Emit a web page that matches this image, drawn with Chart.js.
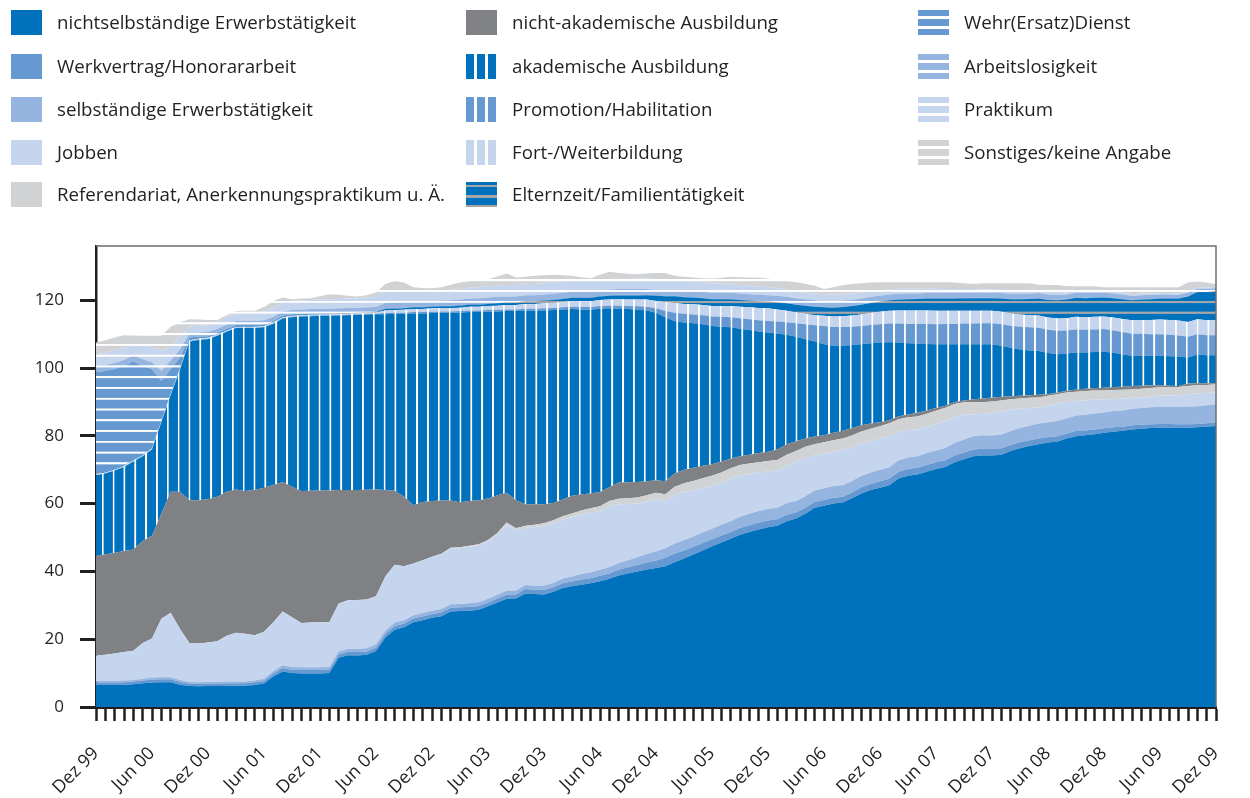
<!DOCTYPE html>
<html lang="de">
<head>
<meta charset="utf-8">
<script src="https://cdn.jsdelivr.net/npm/chart.js@4.4.0/dist/chart.umd.min.js"></script>
<style>
  html, body { margin: 0; padding: 0; background: #fff; }
  #wrap { position: relative; width: 1250px; height: 798px; overflow: hidden; }
  #chart { position: absolute; left: 0; top: 0; }
  .item { position: absolute; height: 25px; white-space: nowrap; font-family: 'Open Sans', sans-serif; font-size: 18.7px; color: #231f20; }
  .sw { position: absolute; left: 0; top: 0; width: 31px; height: 25px; }
  .txt { position: absolute; left: 46px; top: -1px; line-height: 25px; }
</style>
</head>
<body>
<div id="wrap">
  <canvas id="chart" width="1250" height="798"></canvas>
  <div id="legende"></div>
</div>
<script>
// Monate Dez 99 bis Dez 09 (Kategorien)
const monatsNamen = ['Jan', 'Feb', 'Mär', 'Apr', 'Mai', 'Jun', 'Jul', 'Aug', 'Sep', 'Okt', 'Nov', 'Dez'];
const monate = [];
for (let k = 0; k < 121; k++) {
    const m = (11 + k) % 12;
    const jahr = 1999 + Math.floor((11 + k) / 12);
    monate.push(monatsNamen[m] + ' ' + String(jahr % 100).padStart(2, '0'));
}

// Werte je Tätigkeit (Anteile, monatlich)
const nichtselbststaendig = [
    6.5, 6.5, 6.5, 6.6, 6.7, 7.0, 7.2, 7.3, 7.3, 6.6, 6.2, 6.1, 6.2, 6.2, 6.3, 6.3, 6.3, 6.5, 6.9, 9.0,
    10.5, 10.0, 9.9, 9.9, 9.9, 10.0, 14.5, 15.3, 15.2, 15.4, 16.5, 20.5, 22.8, 23.5, 25.0, 25.6, 26.3, 26.8, 28.2, 28.3,
    28.4, 28.7, 29.7, 30.8, 31.9, 32.0, 33.5, 33.3, 33.2, 34.0, 35.1, 35.6, 36.1, 36.5, 37.1, 37.8, 38.8, 39.4, 40.0, 40.6,
    41.0, 41.5, 42.7, 43.8, 45.0, 46.2, 47.4, 48.5, 49.6, 50.8, 51.6, 52.4, 53.0, 53.5, 54.8, 55.6, 57.0, 58.8, 59.4, 60.0,
    60.3, 61.6, 63.0, 64.0, 64.7, 65.4, 67.4, 68.2, 68.6, 69.4, 70.2, 70.8, 72.2, 73.1, 74.0, 74.2, 74.2, 74.4, 75.5, 76.3,
    77.0, 77.5, 78.0, 78.3, 79.2, 79.9, 80.2, 80.5, 80.9, 81.2, 81.5, 81.9, 82.1, 82.3, 82.4, 82.4, 82.4, 82.4, 82.5, 82.7,
    82.9
];
const werkvertrag = [
    0.7, 0.7, 0.7, 0.7, 0.8, 0.8, 0.9, 0.9, 0.9, 0.8, 0.7, 0.7, 0.7, 0.7, 0.7, 0.7, 0.7, 0.8, 0.8,
    0.9, 1.0, 1.0, 1.0, 1.0, 1.0, 1.0, 1.0, 1.0, 1.0, 1.0, 1.0,
    1.0, 1.1, 1.1, 1.1, 1.1, 1.1, 1.1, 1.1, 1.1, 1.1, 1.1, 1.1, 1.2, 1.2, 1.2,
    1.3, 1.3, 1.3, 1.3, 1.4, 1.4, 1.5, 1.5, 1.6, 1.6, 1.7, 1.8, 1.9, 2.0, 2.2,
    2.5, 2.6, 2.4, 2.3, 2.2, 2.1, 2.1, 2.0, 2.0, 2.0, 2.0, 2.0, 1.9, 1.9, 1.8,
    1.8, 1.7, 1.7, 1.7, 1.7, 1.7, 1.8, 1.8, 1.9, 1.9, 2.0, 2.0, 2.0, 2.0, 2.0,
    2.0, 2.0, 2.0, 2.0, 2.0, 1.9, 1.9, 1.8, 1.8, 1.7, 1.7, 1.6, 1.6, 1.5, 1.5,
    1.4, 1.4, 1.3, 1.3, 1.2, 1.2, 1.2, 1.1, 1.1, 1.1, 1.0, 1.0, 1.0, 1.0, 1.0
];
const selbststaendig = [
    0.5, 0.5, 0.5, 0.5, 0.5, 0.5, 0.6, 0.6, 0.6, 0.6, 0.5, 0.5, 0.5, 0.5, 0.5, 0.5, 0.5, 0.5, 0.6,
    0.7, 0.8, 0.8, 0.8, 0.8, 0.8, 0.8, 0.9, 0.9, 0.9, 0.9, 1.0,
    1.0, 1.0, 1.0, 1.0, 1.0, 1.0, 1.0, 1.0, 1.0, 1.1, 1.1, 1.1, 1.1, 1.2, 1.2,
    1.2, 1.2, 1.3, 1.3, 1.4, 1.5, 1.6, 1.7, 1.8, 1.9, 2.0, 2.1, 2.3, 2.5, 2.7,
    2.8, 2.9, 3.0, 3.0, 3.1, 3.1, 3.2, 3.2, 3.3, 3.4, 3.4, 3.4, 3.4, 3.4, 3.4,
    3.4, 3.4, 3.4, 3.4, 3.4, 3.4, 3.4, 3.4, 3.4, 3.4, 3.4, 3.4, 3.4, 3.5, 3.5,
    3.6, 3.7, 3.8, 3.9, 4.0, 4.0, 4.1, 4.1, 4.2, 4.3, 4.4, 4.4, 4.5, 4.5, 4.6,
    4.6, 4.7, 4.7, 4.8, 4.8, 4.9, 4.9, 5.0, 5.0, 5.1, 5.1, 5.2, 5.2, 5.3, 5.4
];
const jobben = [
    7.5, 7.7, 8.1, 8.4, 8.6, 10.6, 11.5, 17.2, 19.0, 15.0, 11.5, 11.4, 11.6, 12.0, 13.5, 14.4, 14.1, 13.4, 13.9, 14.4,
    15.9, 14.7, 13.1, 13.2, 13.3, 13.2, 14.1, 14.3, 14.5, 14.4, 14.2, 16.0, 17.1, 15.9, 15.2, 15.6, 15.9, 16.1, 16.4, 16.4,
    16.7, 16.8, 17.0, 17.8, 19.6, 17.8, 16.9, 17.3, 17.6, 17.6, 17.4, 17.5, 17.6, 17.6, 17.3, 18.0, 17.3, 16.6, 15.8, 15.5,
    15.3, 13.9, 14.5, 14.3, 13.7, 13.1, 12.6, 12.4, 12.6, 12.3, 11.8, 11.4, 11.1, 11.0, 11.1, 11.5, 11.3, 10.3, 10.3, 10.2,
    10.4, 9.9, 9.6, 9.3, 9.2, 9.3, 8.4, 8.1, 7.9, 7.7, 7.8, 8.0, 7.7, 7.4, 6.5, 6.3, 6.7, 6.8, 6.3, 5.7,
    5.2, 4.8, 4.9, 5.1, 4.8, 4.3, 4.3, 4.1, 3.9, 3.6, 3.5, 3.2, 3.2, 3.2, 3.3, 3.3, 3.5, 3.7, 3.8, 3.6,
    3.5
];
const referendariat = [
    0, 0, 0, 0, 0, 0, 0, 0, 0, 0, 0, 0, 0, 0, 0, 0, 0, 0, 0, 0,
    0, 0, 0, 0, 0, 0, 0, 0, 0, 0, 0, 0, 0, 0, 0, 0, 0,
    0.2, 0.3, 0.3, 0.3, 0.3, 0.4, 0.4, 0.5, 0.5,
    0.6, 0.7, 0.8, 0.9, 1.0, 1.1, 1.2, 1.3, 1.4, 1.5, 1.6, 1.7, 1.8, 1.9, 2.0,
    2.1, 2.3, 2.5, 2.7, 2.9, 3.0, 3.0, 3.0, 3.0, 3.0, 3.0, 3.1, 3.1, 3.2, 3.2,
    3.3, 3.3, 3.3, 3.4, 3.4, 3.5, 3.5, 3.6, 3.6, 3.7, 3.7, 3.8, 3.8, 3.9, 3.9,
    3.9, 3.8, 3.6, 3.5, 3.4, 3.3, 3.2, 3.1, 3.0, 3.0, 2.9, 2.9, 2.8, 2.8, 2.7,
    2.7, 2.7, 2.6, 2.6, 2.6, 2.5, 2.5, 2.5, 2.5, 2.5, 2.4, 2.4, 2.4, 2.4, 2.4
];
const nichtAkademisch = [
    29.5, 29.6, 29.7, 29.8, 29.9, 30.1, 30.3, 31.0, 35.7, 40.5, 42.1, 42.3, 42.3, 42.6, 42.5, 42.3, 42.1, 42.8, 42.5, 40.5,
    38.2, 38.5, 38.9, 38.9, 38.9, 38.9, 33.5, 32.5, 32.4, 32.4, 31.5, 25.5, 21.8, 20.5, 17.2, 17.2, 16.5, 15.7, 13.9, 13.3,
    13.2, 13.0, 12.2, 11.2, 8.8, 8.3, 6.3, 6.0, 5.6, 5.1, 4.9, 5.2, 4.8, 4.4, 4.2, 4.0, 4.8, 4.7, 4.6, 4.1,
    3.7, 3.8, 3.9, 4.0, 3.9, 3.7, 3.4, 3.2, 2.8, 2.6, 2.6, 2.7, 2.7, 3.1, 3.1, 2.9, 2.4, 2.3, 2.1, 2.2,
    2.3, 2.1, 1.8, 1.5, 1.2, 0.9, 0.9, 0.8, 1.1, 1.0, 0.8, 0.6, 0.6, 0.5, 0.9, 1.1, 1.2, 1.1, 0.9, 0.8,
    0.8, 0.8, 0.5, 0.5, 0.4, 0.7, 0.7, 0.7, 0.8, 0.9, 0.9, 1.0, 0.9, 0.8, 0.6, 0.4, 0.3, 0.7, 0.6, 0.5,
    0.3
];
const akademisch = [
    23.7, 23.9, 24.3, 24.8, 25.9, 25.0, 25.5, 27.0, 28.5, 36.0, 46.8, 47.3, 47.2, 47.5, 47.2, 47.6, 48.1, 47.8, 47.3, 47.5,
    48.2, 50.0, 51.5, 51.5, 51.5, 51.5, 51.5, 51.6, 51.7, 51.7, 51.7, 51.9, 52.2, 54.0, 56.6, 55.6, 55.4, 55.4, 55.4, 55.9,
    55.7, 55.5, 55.1, 54.2, 53.6, 55.8, 57.1, 57.1, 57.2, 56.9, 56.0, 55.1, 54.5, 54.2, 54.1, 52.8, 51.3, 51.1, 50.8, 50.4,
    49.4, 48.4, 44.9, 43.4, 42.6, 41.7, 40.8, 39.8, 38.8, 37.6, 36.8, 35.9, 35.2, 34.2, 32.3, 30.8, 29.3, 28.0, 26.8, 25.7,
    25.1, 24.6, 23.9, 23.7, 23.5, 23.0, 21.7, 21.0, 20.4, 19.6, 18.8, 18.1, 17.0, 16.6, 16.2, 16.0, 15.7, 15.1, 14.3, 13.7,
    13.2, 12.9, 12.1, 11.3, 11.1, 10.9, 10.7, 10.6, 10.6, 10.1, 9.5, 8.9, 8.8, 8.7, 8.7, 8.7, 8.7, 7.7, 8.5, 8.3,
    8.3
];
const promotion = [
    0, 0, 0, 0, 0, 0, 0, 0, 0, 0,
    0.1, 0.1, 0.1, 0.1, 0.1, 0.1, 0.1, 0.1, 0.1, 0.1, 0.1, 0.1, 0.1, 0.1, 0.1, 0.1, 0.1, 0.1, 0.1, 0.1, 0.1,
    0.3, 0.3, 0.3, 0.4, 0.4, 0.4, 0.4, 0.4, 0.5, 0.5, 0.5, 0.5, 0.5, 0.5, 0.5,
    0.6, 0.6, 0.6, 0.6, 0.7, 0.7, 0.7, 0.8, 0.8, 0.8, 0.9, 0.9, 1.0, 1.1, 1.3,
    1.8, 2.5, 2.6, 2.6, 2.7, 2.8, 2.9, 3.0, 3.1, 3.2, 3.3, 3.4, 3.5, 3.7, 4.0,
    4.4, 4.8, 5.4, 5.5, 5.5, 5.4, 5.4, 5.4, 5.4, 5.5, 5.6, 5.7, 5.8, 5.9, 5.9,
    6.0, 6.0, 6.1, 6.1, 6.2, 6.2, 6.3, 6.5, 6.7, 6.8, 6.9, 6.9, 6.9, 6.8, 6.8,
    6.7, 6.7, 6.7, 6.6, 6.6, 6.5, 6.5, 6.4, 6.4, 6.3, 6.2, 6.1, 6.0, 5.9, 5.9
];
const weiterbildung = [
    0.3, 0.3, 0.3, 0.3, 0.3, 0.3, 0.3, 0.3, 0.3, 0.3,
    0.3, 0.3, 0.3, 0.3, 0.3, 0.3, 0.3, 0.3, 0.3, 0.3, 0.3, 0.3, 0.3, 0.3, 0.3, 0.3, 0.3, 0.3, 0.3, 0.3, 0.3,
    0.8, 0.8, 0.9, 0.9, 0.9, 1.0, 1.0, 1.0, 1.0, 1.1, 1.1, 1.2, 1.2, 1.3, 1.3,
    1.4, 1.4, 1.5, 1.5, 1.6, 1.6, 1.7, 1.7, 1.8, 1.8, 1.9, 1.9, 2.0, 2.1, 2.2,
    2.6, 2.9, 2.9, 3.0, 3.0, 3.1, 3.2, 3.3, 3.4, 3.5, 3.6, 3.7, 3.6, 3.4, 3.2,
    3.1, 3.0, 3.0, 3.1, 3.2, 3.3, 3.4, 3.5, 3.7, 3.8, 3.9, 4.0, 4.0, 4.0, 4.0,
    3.9, 3.9, 3.8, 3.8, 3.7, 3.7, 3.7, 3.6, 3.6, 3.6, 3.6, 3.6, 3.6, 3.6, 3.7,
    3.7, 3.7, 3.7, 3.8, 3.9, 4.0, 4.1, 4.2, 4.3, 4.4, 4.4, 4.4, 4.4, 4.4, 4.4
];
const elternzeit = [
    0.2, 0.2, 0.2, 0.2, 0.2, 0.2, 0.2, 0.2, 0.2, 0.2,
    0.2, 0.2, 0.2, 0.2, 0.2, 0.2, 0.2, 0.2, 0.2, 0.2, 0.2, 0.2, 0.2, 0.2, 0.2, 0.2, 0.2, 0.2, 0.2, 0.2, 0.2,
    0.4, 0.4, 0.4, 0.5, 0.5, 0.5, 0.5, 0.5, 0.6, 0.6, 0.6, 0.6, 0.7, 0.7, 0.7,
    0.8, 0.8, 0.8, 0.9, 0.9, 1.0, 1.0, 1.0, 1.0, 1.1, 1.1, 1.2, 1.2, 1.3, 1.5,
    1.8, 2.0, 2.0, 2.0, 2.0, 2.0, 2.0, 2.0, 2.0, 2.0, 2.0, 2.0, 2.1, 2.2, 2.3,
    2.4, 2.5, 2.5, 2.6, 2.7, 2.8, 2.9, 3.0, 3.0, 3.1, 3.2, 3.3, 3.4, 3.5, 3.6,
    3.6, 3.6, 3.7, 3.7, 3.7, 3.7, 3.9, 4.2, 4.5, 4.8, 5.0, 5.2, 5.4, 5.5, 5.6,
    5.6, 5.6, 5.6, 5.7, 5.8, 5.9, 6.0, 6.1, 6.2, 6.3, 6.5, 7.5, 8.0, 8.3, 8.6
];
const wehrdienst = [
    29.8, 29.8, 29.4, 29.3, 29.1, 26.1, 23.2, 11.7, 7.2, 3.0,
    0.6, 0.4, 0.3, 0.3, 0.3, 0.3, 0.3, 0.3, 0.3, 0.3, 0.3, 0.3, 0.3, 0.3, 0.3, 0.3, 0.3, 0.3, 0.3, 0.3, 0.3,
    0.2, 0.2, 0.2, 0.2, 0.2, 0.2, 0.2, 0.2, 0.2, 0.2, 0.2, 0.2, 0.2, 0.2, 0.2,
    0.2, 0.2, 0.2, 0.2, 0.2, 0.2, 0.2, 0.2, 0.2, 0.2, 0.2, 0.2, 0.2, 0.2, 0.2,
    0.1, 0.1, 0.1, 0.1, 0.1, 0.1, 0.1, 0.1, 0.1, 0.1, 0.1, 0.1, 0.1, 0.1, 0.1,
    0.1, 0.1, 0.1, 0.1, 0.1, 0.1, 0.1, 0.1, 0.1, 0.1, 0.1, 0.1, 0.1, 0.1, 0.1,
    0.1, 0.1, 0.1, 0.1, 0.1, 0.1, 0.1, 0.1, 0.1, 0.1, 0.1, 0.1, 0.1, 0.1, 0.1,
    0.1, 0.1, 0.1, 0.1, 0.1, 0.1, 0.1, 0.1, 0.1, 0.1, 0.1, 0.1, 0.1, 0.1, 0.1
];
const arbeitslos = [
    1.9, 1.8, 1.8, 1.8, 1.8, 2.0, 2.0, 3.0, 2.5, 2.5,
    1.2, 1.2, 1.2, 1.2, 1.2, 1.2, 1.2, 1.2, 1.2, 1.2, 1.2, 1.2, 1.2, 1.2, 1.2, 1.2, 1.2, 1.2, 1.2, 1.2, 1.2,
    1.6, 1.7, 1.7, 1.6, 1.6, 1.5, 1.5, 1.6, 1.6, 1.6, 1.7, 1.7, 1.7, 1.6, 1.6,
    1.6, 1.6, 1.6, 1.6, 1.6, 1.6, 1.6, 1.7, 1.7, 1.7, 1.7, 1.7, 1.7, 1.6, 1.6,
    1.7, 1.7, 1.7, 1.7, 1.8, 1.8, 1.8, 1.8, 1.8, 1.8, 1.8, 1.8, 1.8, 1.8, 1.8,
    1.8, 1.8, 1.8, 1.8, 1.8, 1.7, 1.7, 1.7, 1.6, 1.6, 1.6, 1.6, 1.5, 1.5, 1.5,
    1.5, 1.5, 1.5, 1.5, 1.5, 1.5, 1.5, 1.5, 1.5, 1.5, 1.5, 1.5, 1.5, 1.4, 1.4,
    1.4, 1.4, 1.3, 1.3, 1.3, 1.2, 1.2, 1.2, 1.1, 1.1, 1.0, 1.0, 0.9, 0.8, 0.8
];
const praktikum = [
    3.5, 3.6, 3.7, 3.5, 3.0, 4.0, 4.5, 5.8, 4.0, 4.0,
    2.0, 2.0, 2.0, 2.0, 2.2, 2.3, 2.4, 2.4, 2.5, 2.6, 2.7, 2.7, 2.7, 2.7, 2.8, 2.8, 2.8, 2.8, 2.8, 2.9, 3.0,
    3.5, 3.6, 3.4, 3.0, 2.8, 2.6, 2.8, 3.0, 3.1, 3.2, 3.3, 3.3, 3.4, 3.4, 3.3,
    3.3, 3.3, 3.3, 3.3, 3.3, 3.2, 3.2, 3.1, 3.0, 3.0, 3.0, 3.0, 3.1, 3.1, 3.2,
    3.2, 3.2, 3.1, 3.0, 2.9, 2.8, 2.7, 2.6, 2.5, 2.5, 2.4, 2.3, 2.2, 2.1, 2.0,
    2.0, 2.0, 2.0, 2.0, 1.9, 1.9, 1.8, 1.7, 1.6, 1.5, 1.5, 1.4, 1.4, 1.3, 1.3,
    1.2, 1.2, 1.1, 1.1, 1.0, 1.0, 0.9, 0.9, 0.8, 0.8, 0.7, 0.7, 0.6, 0.6, 0.6,
    0.5, 0.5, 0.5, 0.5, 0.5, 0.5, 0.5, 0.4, 0.4, 0.4, 0.4, 0.4, 0.4, 0.4, 0.4
];
const sonstiges = [
    3.4, 3.6, 3.8, 3.8, 2.8, 2.9, 3.3, 4.5, 6.0, 4.0,
    2.2, 1.8, 1.6, 0.6, 0.6, 0.6, 0.6, 0.6, 1.4, 2.1, 1.4, 0.5, 0.5, 0.5, 0.9, 1.5, 1.2, 0.8, 0.5, 0.7, 1.3,
    2.1, 2.7, 2.3, 1.1, 1.1, 1.1, 1.1, 1.6, 1.9, 1.9, 2.0, 2.1, 2.6, 3.4, 2.3,
    2.1, 2.4, 2.4, 2.3, 1.9, 1.5, 1.1, 0.8, 1.5, 2.2, 1.7, 1.5, 1.3, 1.5, 1.7,
    1.8, 1.0, 1.1, 1.1, 1.1, 1.4, 1.7, 2.1, 2.3, 2.4, 2.7, 2.6, 2.4, 2.6, 2.7,
    2.6, 2.3, 1.5, 2.1, 2.6, 2.8, 2.7, 2.5, 2.4, 2.1, 1.9, 1.9, 1.9, 1.9, 1.9,
    2.0, 1.9, 1.7, 1.5, 1.8, 1.8, 2.0, 2.2, 2.3, 2.2, 1.8, 2.1, 2.3, 1.9, 1.3,
    1.5, 1.4, 1.1, 1.3, 1.6, 2.0, 1.8, 1.8, 1.7, 1.7, 1.8, 2.7, 1.7, 1.5, 0.8
];

// Farben
const BLAU = '#0071bc', MITTEL = '#6699d1', HELL = '#95b4df', SEHRHELL = '#c6d5ee';
const GRAUHELL = '#d1d2d4', GRAU = '#808184', STREIFGRAU = '#a4a6a9';

const ctx = document.getElementById('chart').getContext('2d');

// Streifenmuster, an der Leinwand ausgerichtet (wie im Original durchgehend)
function muster(grund, streifen, richtung, dicke) {
    const t = document.createElement('canvas');
    t.width = 20; t.height = 20;
    const c = t.getContext('2d');
    c.fillStyle = grund;
    c.fillRect(0, 0, 20, 20);
    c.fillStyle = streifen;
    if (richtung === 'v') {
        c.fillRect(0, 0, dicke, 20);
    } else {
        c.fillRect(0, 0, 20, dicke);
    }
    const pat = ctx.createPattern(t, 'repeat');
    if (richtung === 'v') {
        pat.setTransform(new DOMMatrix([10.84 / 20, 0, 0, 1, 4.29, 0]));
    } else {
        pat.setTransform(new DOMMatrix([1, 0, 0, 10.77 / 20, 0, 9.98]));
    }
    return pat;
}

const reihen = [
    { label: 'nichtselbständige Erwerbstätigkeit', data: nichtselbststaendig, fill: BLAU, css: BLAU },
    { label: 'Werkvertrag/Honorararbeit', data: werkvertrag, fill: MITTEL, css: MITTEL },
    { label: 'selbständige Erwerbstätigkeit', data: selbststaendig, fill: HELL, css: HELL },
    { label: 'Jobben', data: jobben, fill: SEHRHELL, css: SEHRHELL },
    { label: 'Referendariat, Anerkennungspraktikum u. Ä.', data: referendariat, fill: GRAUHELL, css: GRAUHELL },
    { label: 'nicht-akademische Ausbildung', data: nichtAkademisch, fill: GRAU, css: GRAU },
    { label: 'akademische Ausbildung', data: akademisch, fill: muster(BLAU, '#fff', 'v', 3.2), css: 'v:' + BLAU },
    { label: 'Promotion/Habilitation', data: promotion, fill: muster(MITTEL, '#fff', 'v', 3.2), css: 'v:' + MITTEL },
    { label: 'Fort-/Weiterbildung', data: weiterbildung, fill: muster(SEHRHELL, '#fff', 'v', 3.2), css: 'v:' + SEHRHELL },
    { label: 'Elternzeit/Familientätigkeit', data: elternzeit, fill: muster(BLAU, STREIFGRAU, 'h', 4.2), css: 'e:' + BLAU },
    { label: 'Wehr(Ersatz)Dienst', data: wehrdienst, fill: muster(MITTEL, '#fff', 'h', 3.7), css: 'h:' + MITTEL },
    { label: 'Arbeitslosigkeit', data: arbeitslos, fill: muster(HELL, '#fff', 'h', 3.7), css: 'h:' + HELL },
    { label: 'Praktikum', data: praktikum, fill: muster(SEHRHELL, '#fff', 'h', 3.7), css: 'h:' + SEHRHELL },
    { label: 'Sonstiges/keine Angabe', data: sonstiges, fill: muster(GRAUHELL, '#fff', 'h', 3.7), css: 'h:' + GRAUHELL }
];

// Legende (3 Spalten, spaltenweise gelesen)
const spalten = [11, 466, 918];
const zeilen = [10, 54, 97, 140, 182];
const legende = document.getElementById('legende');
reihen.forEach((r, i) => {
    const spalte = i < 5 ? 0 : (i < 10 ? 1 : 2);
    const zeile = i < 5 ? i : (i < 10 ? i - 5 : i - 10);
    let bg = r.css;
    if (bg.startsWith('v:')) {
        const f = bg.slice(2);
        bg = `linear-gradient(to right, ${f} 0 8px, #fff 8px 11px, ${f} 11px 19px, #fff 19px 22px, ${f} 22px 30px, #fff 30px)`;
    } else if (bg.startsWith('h:')) {
        const f = bg.slice(2);
        bg = `linear-gradient(to bottom, ${f} 0 6px, #fff 6px 9px, ${f} 9px 16px, #fff 16px 19px, ${f} 19px 25px)`;
    } else if (bg.startsWith('e:')) {
        const f = bg.slice(2);
        bg = `linear-gradient(to bottom, ${f} 0 3px, ${STREIFGRAU} 3px 5px, ${f} 5px 13px, ${STREIFGRAU} 13px 16px, ${f} 16px 23px, ${STREIFGRAU} 23px 25px)`;
    }
    const div = document.createElement('div');
    div.className = 'item';
    div.style.left = spalten[spalte] + 'px';
    div.style.top = zeilen[zeile] + 'px';
    div.innerHTML = `<div class="sw" style="background:${bg}"></div><div class="txt">${r.label}</div>`;
    legende.appendChild(div);
});

// Rahmen oben und rechts
const rahmen = {
    id: 'rahmen',
    afterDraw(chart) {
        const a = chart.chartArea;
        const c = chart.ctx;
        c.save();
        c.strokeStyle = '#6d6e71';
        c.lineWidth = 1.5;
        c.beginPath();
        c.moveTo(a.left, a.top);
        c.lineTo(a.right, a.top);
        c.lineTo(a.right, a.bottom);
        c.stroke();
        c.restore();
    }
};

new Chart(ctx, {
    type: 'line',
    data: {
        labels: monate,
        datasets: reihen.map((r, i) => ({
            label: r.label,
            data: r.data,
            backgroundColor: r.fill,
            borderWidth: 0,
            pointRadius: 0,
            tension: 0,
            fill: i === 0 ? 'origin' : '-1'
        }))
    },
    options: {
        responsive: false,
        animation: false,
        layout: { padding: { top: 246, right: 34, left: 0, bottom: 0 } },
        plugins: {
            legend: { display: false },
            tooltip: { enabled: false }
        },
        scales: {
            x: {
                offset: false,
                grid: { drawOnChartArea: false, tickLength: 14, tickWidth: 2.5, tickColor: '#231f20' },
                border: { width: 3, color: '#231f20' },
                ticks: {
                    autoSkip: false,
                    maxRotation: 45,
                    minRotation: 45,
                    padding: 22,
                    color: '#231f20',
                    font: { family: 'Open Sans', size: 18 },
                    callback: (v, i) => (i % 6 === 0 ? monate[i] : '')
                },
                afterFit: s => { s.height = 91; s.paddingLeft = 0; s.paddingRight = 0; }
            },
            y: {
                stacked: true,
                min: 0,
                max: 136,
                grid: { drawOnChartArea: false, tickLength: 16, tickWidth: 3, tickColor: '#231f20' },
                border: { width: 2.5, color: '#231f20' },
                ticks: {
                    stepSize: 20,
                    padding: 16,
                    color: '#231f20',
                    font: { family: 'Open Sans', size: 17 }
                },
                afterBuildTicks: s => { s.ticks = s.ticks.filter(t => t.value % 20 === 0); },
                afterFit: s => { s.width = 96; s.paddingTop = 0; s.paddingBottom = 0; }
            }
        }
    },
    plugins: [rahmen]
});
</script>
</body>
</html>
